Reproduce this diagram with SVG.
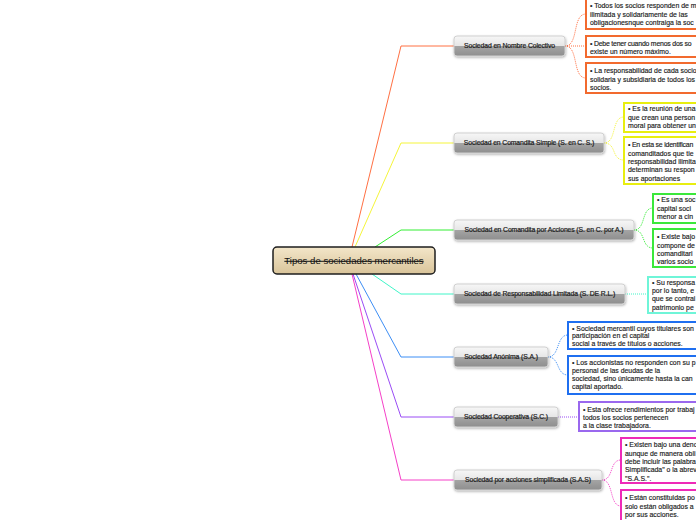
<svg xmlns="http://www.w3.org/2000/svg" width="696" height="520" viewBox="0 0 696 520">
<defs>
<linearGradient id="gNode" x1="0" y1="0" x2="0" y2="1">
<stop offset="0" stop-color="#f7f7f7"/>
<stop offset="0.5" stop-color="#e6e6e6"/>
<stop offset="0.52" stop-color="#a4a4a4"/>
<stop offset="1" stop-color="#8e8e8e"/>
</linearGradient>
<linearGradient id="gRoot" x1="0" y1="0" x2="0" y2="1">
<stop offset="0" stop-color="#f3e6c9"/>
<stop offset="1" stop-color="#d9c49a"/>
</linearGradient>
<filter id="sh" x="-10%" y="-30%" width="120%" height="170%">
<feDropShadow dx="0.5" dy="1.2" stdDeviation="0.8" flood-color="#000" flood-opacity="0.3"/>
</filter>
</defs>
<style>
.node rect{fill:url(#gNode);stroke:#d0d0d0;stroke-width:1;filter:url(#sh)}
.node text{font-family:"Liberation Sans",Arial,sans-serif;font-size:6.8px;fill:#1a1a1a;stroke:#1a1a1a;stroke-width:0.2px;text-anchor:middle;letter-spacing:-0.1px}
.box rect{fill:#fff;stroke-width:2}
.box text{font-family:"Liberation Sans",Arial,sans-serif;font-size:6.9px;fill:#1a1a1a;stroke:#1a1a1a;stroke-width:0.15px}
.box text.tight{letter-spacing:-0.2px}
.main{fill:none;stroke-width:1}
.dot{fill:none;stroke-width:1;stroke-dasharray:1 1}
.or{stroke:#ff7043}.ye{stroke:#f5f53a}.gr{stroke:#33ee33}.cy{stroke:#40f5c8}.bl{stroke:#3d8ef5}.pu{stroke:#9a4cf5}.pk{stroke:#f540c8}
</style>
<rect width="696" height="520" fill="#fff"/>
<g id="connectors">
<polyline class="main or" points="352,247 401,46 454,46"/>
<polyline class="main ye" points="355,247 401,143 454,143"/>
<polyline class="main gr" points="375,247 401,230 454,230"/>
<polyline class="main cy" points="372,274 401,294 454,294"/>
<polyline class="main bl" points="356,274 401,357 454,357"/>
<polyline class="main pu" points="353,274 401,417 454,417"/>
<polyline class="main pk" points="352,274 401,480 454,480"/>
<path class="dot or" d="M565,46 C579,46 572,14 586,14"/>
<path class="dot or" d="M565,46 L586,46"/>
<path class="dot or" d="M565,46 C579,46 572,78 586,78"/>
<path class="dot ye" d="M604,143 C617,143 611,117 624,117"/>
<path class="dot ye" d="M604,143 C617,143 611,160 624,160"/>
<path class="dot gr" d="M634,230 C646,230 641,208 653,208"/>
<path class="dot gr" d="M634,230 C646,230 641,248 653,248"/>
<path class="dot cy" d="M625,294 L648,294"/>
<path class="dot bl" d="M548,357 C560,357 556,335 568,335"/>
<path class="dot bl" d="M548,357 C560,357 556,375 568,375"/>
<path class="dot pu" d="M558,417 L579,417"/>
<path class="dot pk" d="M602,480 C614,480 609,460 621,460"/>
<path class="dot pk" d="M602,480 C614,480 609,506 621,506"/>
</g>
<g id="root">
<rect x="273" y="247" width="162" height="27" rx="4" fill="url(#gRoot)" stroke="#1e1e1e" stroke-width="1.5"/>
<text x="354" y="264.3" font-family="Liberation Sans, Arial, sans-serif" font-size="9.6" fill="#111" text-anchor="middle" text-decoration="line-through">Tipos de sociedades mercantiles</text>
</g>
<g id="n1" class="node"><rect x="454" y="36" width="111" height="20" rx="3"/><text x="509.5" y="48.4">Sociedad en Nombre Colectivo</text></g>
<g id="n2" class="node"><rect x="454" y="133" width="150" height="20" rx="3"/><text x="529" y="145.4">Sociedad en Comandita Simple (S. en C. S.)</text></g>
<g id="n3" class="node"><rect x="454" y="220" width="180" height="20" rx="3"/><text x="544" y="232.4">Sociedad en Comandita por Acciones (S. en C. por A.)</text></g>
<g id="n4" class="node"><rect x="454" y="284" width="171" height="20" rx="3"/><text x="539.5" y="296.4">Sociedad de Responsabilidad Limitada (S. DE R.L.)</text></g>
<g id="n5" class="node"><rect x="454" y="347" width="94" height="20" rx="3"/><text x="501" y="359.4">Sociedad Anónima (S.A.)</text></g>
<g id="n6" class="node"><rect x="454" y="407" width="104" height="20" rx="3"/><text x="506" y="419.4">Sociedad Cooperativa (S.C.)</text></g>
<g id="n7" class="node"><rect x="454" y="470" width="148" height="20" rx="3"/><text x="528" y="482.4">Sociedad por acciones simplificada (S.A.S)</text></g>
<g id="b1" class="box"><rect x="586" y="-2" width="120" height="31" stroke="#f26a2e"/>
<text x="590" y="8.3">• Todos los socios responden de m</text><text x="590" y="16.8">ilimitada y solidariamente de las</text><text x="590" y="25.2">obligacionesnque contraiga la soc</text></g>
<g id="b2" class="box"><rect x="586" y="36" width="120" height="21" stroke="#f26a2e"/>
<text x="590" y="45.5" class="tight">• Debe tener cuando menos dos so</text><text x="590" y="53.8">existe un número máximo.</text></g>
<g id="b3" class="box"><rect x="586" y="63" width="120" height="30" stroke="#f26a2e"/>
<text x="590" y="73.3">• La responsabilidad de cada socio</text><text x="590" y="81.6">solidaria y subsidiaria de todos los</text><text x="590" y="89.9">socios.</text></g>
<g id="b4" class="box"><rect x="624" y="103" width="80" height="29" stroke="#e8ee10"/>
<text x="628" y="111.3">• Es la reunión de una</text><text x="628" y="119.6">que crean una person</text><text x="628" y="127.9">moral para obtener un</text></g>
<g id="b5" class="box"><rect x="624" y="137" width="80" height="47" stroke="#e8ee10"/>
<text x="628" y="147.3" class="tight">• En esta se identifican</text><text x="628" y="155.6">comanditados que tie</text><text x="628" y="163.9">responsabilidad ilimita</text><text x="628" y="172.2">determinan su respon</text><text x="628" y="180.5">sus aportaciones</text></g>
<g id="b6" class="box"><rect x="653" y="194" width="50" height="29" stroke="#3be83b"/>
<text x="657" y="202.3">• Es una soc</text><text x="657" y="210.6">capital soci</text><text x="657" y="218.9">menor a cin</text></g>
<g id="b7" class="box"><rect x="653" y="229" width="50" height="38" stroke="#3be83b"/>
<text x="657" y="239.3">• Existe bajo</text><text x="657" y="247.6">compone de</text><text x="657" y="255.9">comanditari</text><text x="657" y="264.2">varios socio</text></g>
<g id="b8" class="box"><rect x="648" y="277" width="55" height="36" stroke="#6ff5d8"/>
<text x="652" y="284.8">• Su responsa</text><text x="652" y="293.1">por lo tanto, e</text><text x="652" y="301.4">que se contrai</text><text x="652" y="309.7">patrimonio pe</text></g>
<g id="b9" class="box"><rect x="568" y="322" width="135" height="27" stroke="#1f6ff0"/>
<text x="572" y="330.6">• Sociedad mercantil cuyos titulares son</text><text x="572" y="338.4">participación en el capital</text><text x="572" y="346.2">social a través de títulos o acciones.</text></g>
<g id="b10" class="box"><rect x="568" y="356" width="135" height="38" stroke="#1f6ff0"/>
<text x="572" y="365.3">• Los accionistas no responden con su p</text><text x="572" y="373.1">personal de las deudas de la</text><text x="572" y="380.9">sociedad, sino únicamente hasta la can</text><text x="572" y="388.7">capital aportado.</text></g>
<g id="b11" class="box"><rect x="579" y="402" width="124" height="29" stroke="#9a68ee"/>
<text x="583" y="411.8">• Esta ofrece rendimientos por trabaj</text><text x="583" y="419.8">todos los socios pertenecen</text><text x="583" y="427.8">a la clase trabajadora.</text></g>
<g id="b12" class="box"><rect x="621" y="438" width="82" height="45" stroke="#ee2ab8"/>
<text x="625" y="447.3">• Existen bajo una deno</text><text x="625" y="455.6">aunque de manera obli</text><text x="625" y="463.9">debe incluir las palabra</text><text x="625" y="472.2">Simplificada" o la abrev</text><text x="625" y="480.5">"S.A.S.".</text></g>
<g id="b13" class="box"><rect x="621" y="490" width="82" height="36" stroke="#ee2ab8"/>
<text x="625" y="500.3">• Están constituidas po</text><text x="625" y="508.6">solo están obligados a</text><text x="625" y="516.9">por sus acciones.</text></g>
</svg>
